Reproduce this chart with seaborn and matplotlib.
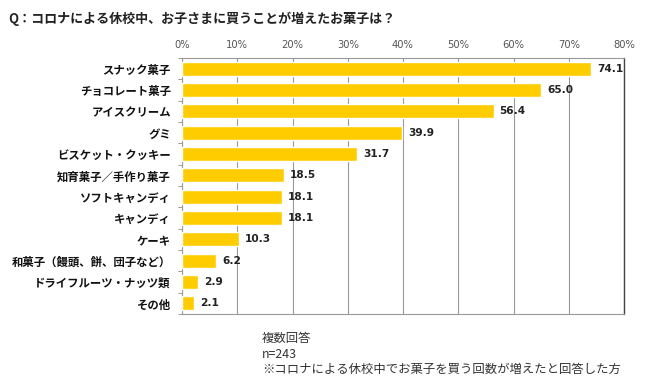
import pandas as pd
import matplotlib
matplotlib.use("Agg")
import matplotlib.pyplot as plt
import seaborn as sns
from matplotlib.ticker import MultipleLocator, FuncFormatter

# dados
categories = ["スナック菓子", "チョコレート菓子", "アイスクリーム", "グミ",
              "ビスケット・クッキー", "知育菓子／手作り菓子", "ソフトキャンディ",
              "キャンディ", "ケーキ", "和菓子（饅頭、餅、団子など）",
              "ドライフルーツ・ナッツ類", "その他"]
values = [74.1, 65.0, 56.4, 39.9, 31.7, 18.5, 18.1, 18.1, 10.3, 6.2, 2.9, 2.1]
title = "Q：コロナによる休校中、お子さまに買うことが増えたお菓子は？"
notes = ["複数回答", "n=243", "※コロナによる休校中でお菓子を買う回数が増えたと回答した方"]

df = pd.DataFrame({"item": categories, "pct": values})

sns.set_style("white")
plt.rcParams['font.family'] = ['Noto Sans CJK JP', 'DejaVu Sans']

fig = plt.figure(figsize=(6.5, 3.84), dpi=100)
ax = fig.add_axes([0.28, 0.182, 0.68, 0.667])

sns.barplot(data=df, x="pct", y="item", color="#FFCC00", width=0.66,
            saturation=1, ax=ax, zorder=3)

ax.set_xlim(0, 80)
ax.set_ylim(len(categories) - 0.5, -0.5)
ax.xaxis.set_major_locator(MultipleLocator(10))
ax.xaxis.set_major_formatter(FuncFormatter(lambda v, p: f"{v:.0f}%"))
ax.xaxis.tick_top()
ax.tick_params(axis="x", which="major", labelsize=7.2, labelcolor="#555555",
               labelfontfamily="DejaVu Sans",
               length=0, pad=6, top=False, labeltop=True)
ax.grid(axis="x", color="#999999", linewidth=0.8, zorder=0)
ax.set_xlabel("")
ax.set_ylabel("")

# ticks das categorias
ax.tick_params(axis="y", length=0, pad=8, labelsize=8.2, labelcolor="#111111")
for lab in ax.get_yticklabels():
    lab.set_fontweight("bold")
ax.set_yticks([i + 0.5 for i in range(-1, len(categories))], minor=True)
ax.tick_params(axis="y", which="minor", length=3, color="#888888", left=True)
ax.set_xticks(range(0, 81, 10), minor=True)
ax.tick_params(axis="x", which="minor", length=3, color="#888888", bottom=True, top=False)

for s in ["left", "bottom", "top"]:
    ax.spines[s].set_color("#999999")
    ax.spines[s].set_linewidth(0.8)
ax.spines["right"].set_color("#444444")
ax.spines["right"].set_linewidth(1.0)

for i, v in enumerate(values):
    ax.text(v + 1.1, i, f"{v:.1f}", va="center", ha="left",
            fontsize=7.6, fontweight="bold", color="#222222",
            family=["DejaVu Sans"], zorder=4)

fig.text(0.012, 0.952, title, fontsize=9.4, fontweight="bold", color="#222222",
         va="center", ha="left")
for k, line in enumerate(notes):
    fig.text(0.403, 0.118 - k * 0.04, line, fontsize=8.9, color="#333333",
             va="center", ha="left")

plt.savefig("out.png", dpi=100)
plt.close()
